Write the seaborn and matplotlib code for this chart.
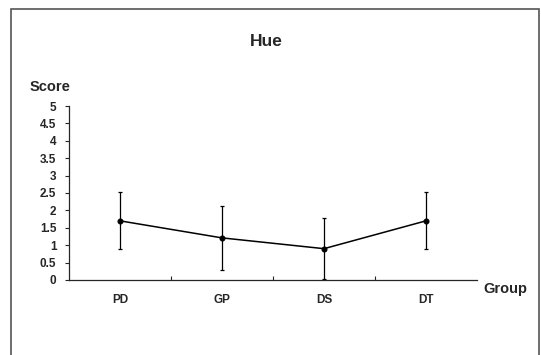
import seaborn as sns
from matplotlib import pyplot as plt
from matplotlib.patches import Rectangle
import pandas as pd

groups = ['PD', 'GP', 'DS', 'DT']
means = [1.70, 1.21, 0.90, 1.70]
sds = [0.82, 0.92, 0.88, 0.82]
yticks = [0, 0.5, 1, 1.5, 2, 2.5, 3, 3.5, 4, 4.5, 5]
ytick_labels = ['0', '0.5', '1', '1.5', '2', '2.5', '3', '3.5', '4', '4.5', '5']

sns.set_style('ticks')
plt.rcParams['font.family'] = ['Liberation Sans', 'DejaVu Sans']
plt.rcParams['font.weight'] = 'bold'

df = pd.DataFrame({'Group': groups, 'Score': means})

fig = plt.figure(figsize=(5.41, 3.55), dpi=100)
ax = fig.add_axes([0.1275, 0.2113, 0.7542, 0.4901])

# outer frame (open at the bottom like the scan)
fig.patches.append(Rectangle((11 / 541, -0.05), 528 / 541, 1.05 - 9 / 355,
                             transform=fig.transFigure, fill=False,
                             edgecolor='#555555', linewidth=1.2))

sns.pointplot(data=df, x='Group', y='Score', color='black', errorbar=None,
              markers='o', markersize=3.5, linewidth=1.1, ax=ax)
ax.errorbar(range(len(groups)), means, yerr=sds, fmt='none', ecolor='black',
            elinewidth=0.9, capsize=1.5, capthick=0.9)

ax.set_xlim(-0.5, len(groups) - 0.5)
ax.set_ylim(0, 5)
ax.set_yticks(yticks)
ax.set_yticklabels(ytick_labels, fontsize=8.5, fontweight='bold')
ax.set_xticks(range(len(groups)))
ax.set_xticklabels(groups, fontsize=8.5, fontweight='bold')
ax.set_xticks([0.5, 1.5, 2.5], minor=True)
ax.tick_params(axis='x', which='major', length=0, pad=10)
ax.tick_params(axis='x', which='minor', direction='in', length=3, width=0.8)
ax.tick_params(axis='y', direction='out', length=3, width=0.8, pad=6)
for side in ['top', 'right']:
    ax.spines[side].set_visible(False)
for side in ['left', 'bottom']:
    ax.spines[side].set_linewidth(0.9)

ax.set_xlabel('')
ax.set_ylabel('')
fig.text(266 / 541, 1 - 42 / 355, 'Hue', ha='center', va='center',
         fontsize=12.5, fontweight='bold')
fig.text(50 / 541, 1 - 87 / 355, 'Score', ha='center', va='center',
         fontsize=10.5, fontweight='bold')
fig.text(505 / 541, 1 - 289 / 355, 'Group', ha='center', va='center',
         fontsize=10.5, fontweight='bold')

plt.savefig('out.png', dpi=100)
